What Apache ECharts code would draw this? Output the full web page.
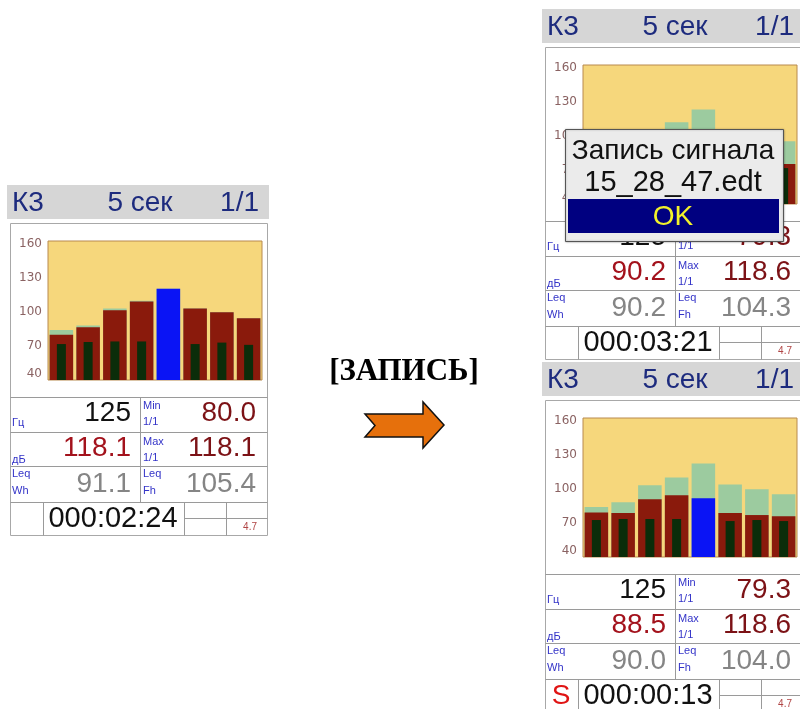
<!DOCTYPE html>
<html>
<head>
<meta charset="utf-8">
<script src="https://cdn.jsdelivr.net/npm/echarts@6/dist/echarts.min.js"></script>
<style>html,body{margin:0;padding:0;background:#fff}#c{width:800px;height:709px}</style>
</head>
<body>
<div id="c"></div>
<script>
// ---- data ----
const categories = ['8', '16', '31.5', '63', '125', '250', '500', '1000'];
const yTicks = [40, 70, 100, 130, 160];
const highlightIndex = 4;

// left screen
const leftLevel = [80.0, 86.6, 101.5, 109.3, 120.5, 103.0, 99.7, 94.5];
const leftMax   = [84.0, 88.0, 103.0, 109.8, 120.5, 103.0, 99.7, 94.5];
const leftInner = [71.7, 73.5, 74.0, 74.0, null, 71.7, 73.0, 71.0];
// top-right screen (partly hidden by dialog)
const topLevel = [79.3, 79.0, 91.0, 94.5, 90.2, 79.0, 77.0, 75.2];
const topMax   = [84.0, 88.3, 103.2, 112.0, 123.3, 104.0, 99.7, 95.3];
const topInner = [72.6, 73.0, 73.5, 73.5, null, 72.0, 72.6, 71.7];
// bottom-right screen
const botLevel = [79.3, 78.7, 91.0, 94.5, 91.8, 78.7, 77.0, 76.0];
const botMax   = [84.0, 88.3, 103.2, 110.2, 122.4, 104.0, 99.7, 95.3];
const botInner = [72.6, 73.5, 73.5, 73.5, null, 71.7, 72.6, 71.7];

// readings: [freq, min, dB, max, leqWh, leqFh, time]
const leftReadings = ['125', '80.0', '118.1', '118.1', '91.1', '105.4', '000:02:24'];
const topReadings  = ['125', '79.3', '90.2', '118.6', '90.2', '104.3', '000:03:21'];
const botReadings  = ['125', '79.3', '88.5', '118.6', '90.0', '104.0', '000:00:13'];

const headerTexts = ['К3', '5 сек', '1/1'];
const dialogTexts = ['Запись сигнала', '15_28_47.edt', 'OK'];
const actionText = '[ЗАПИСЬ]';
const batteryText = '4.7';

// ---- styles ----
const C = {
  yellow: '#f6d77c', red: '#8a1a0c', green: '#9ccb9f', inner: '#0b2d0a', blue: '#0a14f5',
  header: '#d6d6d6', headerText: '#1d2b7e', small: '#3434c8', line: '#9a9a9a',
  dB: '#a3121c', minmax: '#7c1216', gray: '#858585'
};
const FONT = '"Liberation Sans", Arial, sans-serif';

const screens = [
  {dx: 0, dy: 0, level: leftLevel, max: leftMax, inner: leftInner, r: leftReadings, s: false},
  {dx: 535, dy: -176, level: topLevel, max: topMax, inner: topInner, r: topReadings, s: false},
  {dx: 535, dy: 177, level: botLevel, max: botMax, inner: botInner, r: botReadings, s: true}
];

const grids = [], xAxes = [], yAxes = [], series = [], graphics = [];

function txt(x, y, text, size, fill, align, extra) {
  return Object.assign({type: 'text', x: x, y: y,
    style: {text: text, font: size + 'px ' + FONT, fill: fill, align: align || 'left', verticalAlign: 'middle'}}, extra || {});
}
function ln(x1, y1, x2, y2) {
  return {type: 'line', shape: {x1: x1, y1: y1, x2: x2, y2: y2}, style: {stroke: C.line, lineWidth: 1}};
}

screens.forEach((sc, i) => {
  const dx = sc.dx, dy = sc.dy;
  grids.push({left: 48 + dx, top: 241 + dy, width: 214, height: 139, show: true,
    backgroundColor: C.yellow, borderColor: '#b88a4e', borderWidth: 1});
  xAxes.push({type: 'category', data: categories, gridIndex: i, show: false});
  xAxes.push({type: 'category', data: categories, gridIndex: i, show: false});
  yAxes.push({type: 'value', gridIndex: i, min: 40, max: 162.6, interval: 30,
    axisLine: {show: false}, axisTick: {show: false}, splitLine: {show: false},
    axisLabel: {show: true, showMaxLabel: false, verticalAlignMinLabel: 'bottom', color: '#8a6262',
      fontSize: 12, fontFamily: 'DejaVu Sans', margin: 6,
      formatter: v => (yTicks.indexOf(v) >= 0 ? String(v) : '')}});
  series.push({type: 'bar', xAxisIndex: 2 * i, yAxisIndex: i, data: sc.max, barCategoryGap: '12%',
    barGap: '-100%', itemStyle: {color: C.green}, silent: true});
  series.push({type: 'bar', xAxisIndex: 2 * i, yAxisIndex: i, barGap: '-100%',
    data: sc.level.map((v, k) => k === highlightIndex ? {value: v, itemStyle: {color: C.blue}} : v),
    itemStyle: {color: C.red}, silent: true});
  series.push({type: 'bar', xAxisIndex: 2 * i + 1, yAxisIndex: i, barWidth: 9,
    data: sc.inner.map(v => v === null ? '-' : v), itemStyle: {color: C.inner}, silent: true});

  const X = v => v + dx, Y = v => v + dy;
  // header
  graphics.push({type: 'rect', shape: {x: X(7), y: Y(185), width: 262, height: 34}, style: {fill: C.header}});
  graphics.push(txt(X(12), Y(203), headerTexts[0], 28, C.headerText, 'left'));
  graphics.push(txt(X(140), Y(203), headerTexts[1], 28, C.headerText, 'center'));
  graphics.push(txt(X(259), Y(203), headerTexts[2], 28, C.headerText, 'right'));
  // panel
  graphics.push({type: 'rect', shape: {x: X(10.5), y: Y(223.5), width: 257, height: 312},
    style: {fill: 'none', stroke: '#a8a8a8', lineWidth: 1}});
  [397.5, 432.5, 466.5, 502.5].forEach(y => graphics.push(ln(X(10.5), Y(y), X(267.5), Y(y))));
  graphics.push(ln(X(140.5), Y(397.5), X(140.5), Y(502.5)));
  graphics.push(ln(X(43.5), Y(502.5), X(43.5), Y(535.5)));
  graphics.push(ln(X(184.5), Y(502.5), X(184.5), Y(535.5)));
  graphics.push(ln(X(226.5), Y(502.5), X(226.5), Y(535.5)));
  graphics.push(ln(X(184.5), Y(518.5), X(267.5), Y(518.5)));
  // small labels
  graphics.push(txt(X(12), Y(423), 'Гц', 11, C.small));
  graphics.push(txt(X(143), Y(406), 'Min', 11, C.small));
  graphics.push(txt(X(143), Y(422), '1/1', 11, C.small));
  graphics.push(txt(X(12), Y(460), 'дБ', 11, C.small));
  graphics.push(txt(X(143), Y(442), 'Max', 11, C.small));
  graphics.push(txt(X(143), Y(458), '1/1', 11, C.small));
  graphics.push(txt(X(12), Y(474), 'Leq', 11, C.small));
  graphics.push(txt(X(12), Y(491), 'Wh', 11, C.small));
  graphics.push(txt(X(143), Y(474), 'Leq', 11, C.small));
  graphics.push(txt(X(143), Y(491), 'Fh', 11, C.small));
  // values
  const r = sc.r;
  graphics.push(txt(X(131), Y(413), r[0], 28, '#111111', 'right'));
  graphics.push(txt(X(256), Y(413), r[1], 28, C.minmax, 'right'));
  graphics.push(txt(X(131), Y(448), r[2], 28, C.dB, 'right'));
  graphics.push(txt(X(256), Y(448), r[3], 28, C.minmax, 'right'));
  graphics.push(txt(X(131), Y(484), r[4], 28, C.gray, 'right'));
  graphics.push(txt(X(256), Y(484), r[5], 28, C.gray, 'right'));
  graphics.push(txt(X(113), Y(519), r[6], 29, '#111111', 'center'));
  graphics.push(txt(X(257), Y(527), batteryText, 10, '#b04444', 'right'));
  if (sc.s) graphics.push(txt(X(26), Y(519), 'S', 28, '#e01414', 'center'));
});

// dialog on top-right screen
graphics.push({type: 'rect', z: 100, shape: {x: 565.5, y: 129.5, width: 218, height: 112},
  style: {fill: '#ebebeb', stroke: '#555555', lineWidth: 1, shadowBlur: 2, shadowColor: 'rgba(0,0,0,0.3)'}});
graphics.push({type: 'rect', z: 101, shape: {x: 568, y: 199, width: 211, height: 34}, style: {fill: '#000080'}});
graphics.push(txt(673, 151, dialogTexts[0], 28, '#111111', 'center', {z: 102}));
graphics.push(txt(673, 183, dialogTexts[1], 29, '#111111', 'center', {z: 102}));
graphics.push(txt(673, 217, dialogTexts[2], 28, '#f2f22a', 'center', {z: 102}));

// action label + arrow
graphics.push({type: 'text', x: 404, y: 372, style: {text: actionText,
  font: 'bold 31px "Liberation Serif", "Times New Roman", serif', fill: '#000', align: 'center', verticalAlign: 'middle'}});
graphics.push({type: 'polygon', shape: {points: [[365, 414], [423, 414], [423, 402], [444, 425], [423, 448], [423, 437], [365, 437], [375, 425.5]]},
  style: {fill: '#e6700c', stroke: '#111', lineWidth: 1.5}});

const chart = echarts.init(document.getElementById('c'), null, {renderer: 'canvas'});
chart.setOption({
  animation: false,
  grid: grids,
  xAxis: xAxes,
  yAxis: yAxes,
  series: series,
  graphic: {elements: graphics}
});
</script>
</body>
</html>
